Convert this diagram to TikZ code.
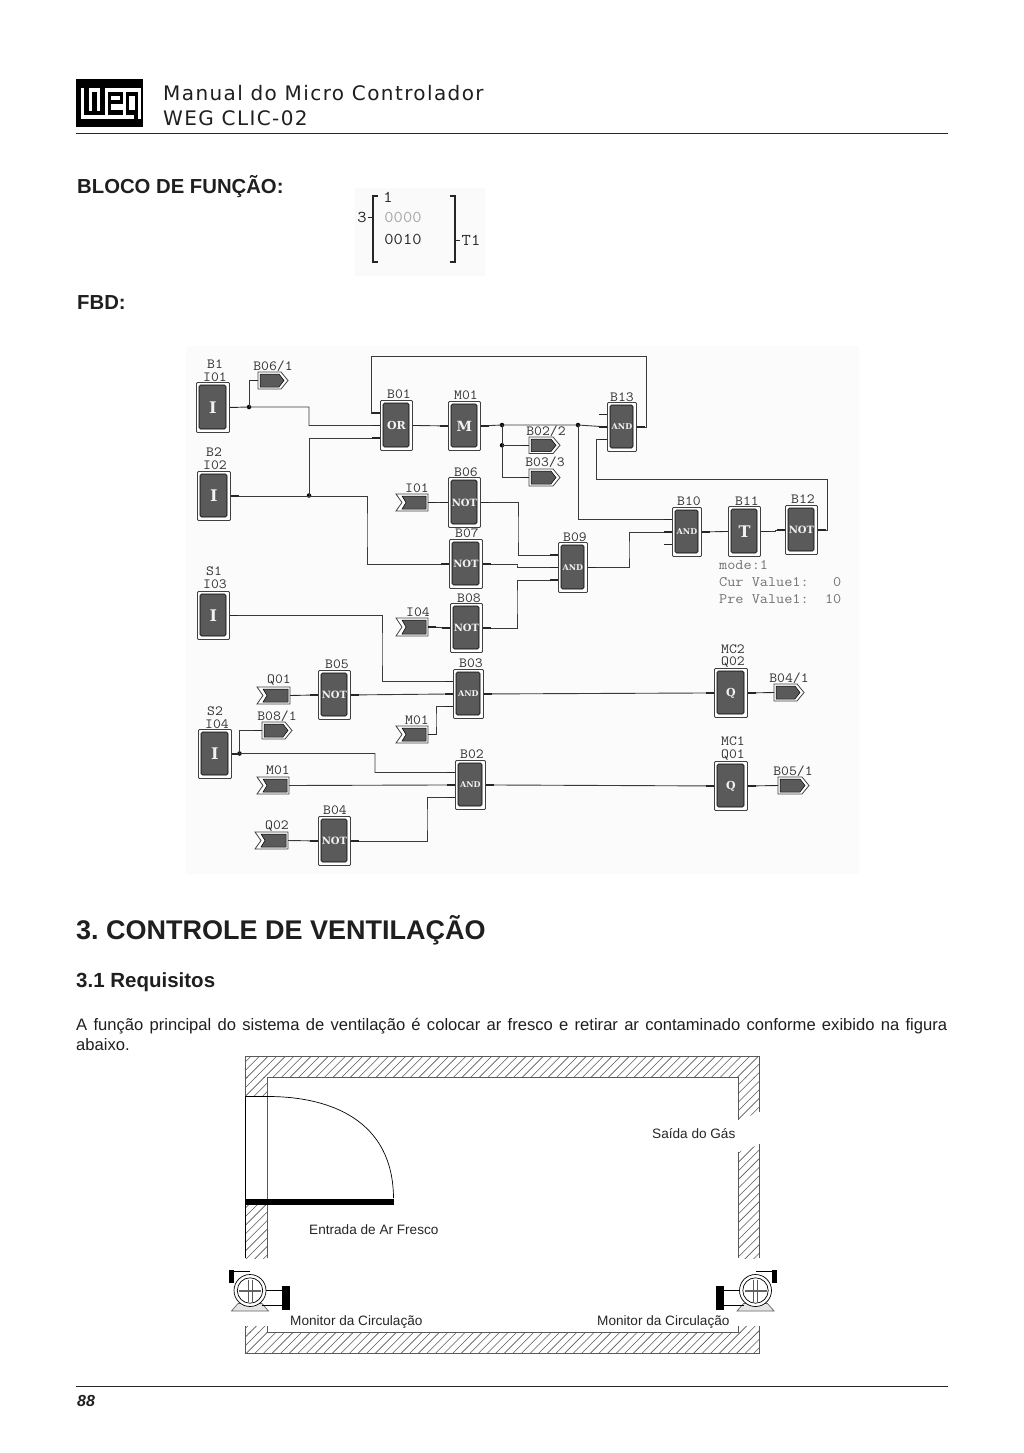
\documentclass[tikz,border=0pt]{standalone}
\usepackage{fontspec}
\usetikzlibrary{calc}
\setmainfont{Liberation Sans}
\newfontfamily\hdr{DejaVu Sans}[LetterSpace=7]
\newfontfamily\lcd{Latin Modern Mono}[FakeStretch=1.09]
\newfontfamily\lcdb{DejaVu Serif}
\AtBeginDocument{\frenchspacing}
\definecolor{blk}{HTML}{5A5A5A}
\definecolor{wire}{HTML}{3A3A3A}
\tikzset{
 x=1pt,y=-1pt,
 wirel/.style={draw=wire,line width=0.9pt},
 pinl/.style={draw=black!85,line width=1.5pt},
 dotj/.style={circle,fill=black,inner sep=0pt,minimum size=4.5pt},
 lab/.style={font=\lcd\fontsize{14}{14}\selectfont,text=black!80,inner sep=0pt},
 flab/.style={font=\lcd\fontsize{16.5}{16.5}\selectfont,text=black!85,inner sep=0pt},
 glab/.style={font=\lcd\fontsize{14.5}{14.5}\selectfont,text=black!55,inner sep=0pt,anchor=west},
 wallline/.style={draw=black!65,line width=0.9pt},
 hatchl/.style={draw=black!65,line width=0.6pt},
 txt/.style={inner sep=0pt,anchor=base west,text=black!88},
 small/.style={inner sep=0pt,anchor=base west,text=black!85,font=\fontsize{13.6}{13.6}\selectfont},
}
% \blockn{name}{x0}{y0}{x1}{y1}{text}{size}
\newcommand{\blockn}[7]{%
 \node[draw=black!75,fill=white,line width=0.9pt,rounded corners=1pt,minimum width=#4pt-#2pt,minimum height=#5pt-#3pt,inner sep=0pt,anchor=north west] (#1) at (#2,#3) {};
 \coordinate (#1a) at ($(#1.west)+(0,-12.5)$);
 \coordinate (#1c) at ($(#1.west)+(0,12.5)$);
 \fill[blk,draw=black,line width=0.6pt,rounded corners=1.5pt] (#2+3,#3+3) rectangle (#4-3,#5-3);
 \node[font=\lcdb\bfseries\fontsize{#7}{#7}\selectfont,text=white!95!black,inner sep=0pt] at (#1.center) {#6};
}
\newcommand{\outt}[5]{%
 \coordinate (#1) at (#2,#3+#5/2);
 \path[draw=black!75,fill=white,line width=0.8pt] (#2,#3) -- (#4-7,#3) -- (#4,#3+#5/2) -- (#4-7,#3+#5) -- (#2,#3+#5) -- cycle;
 \path[fill=blk,draw=black,line width=0.5pt] (#2+2,#3+2) -- (#4-9,#3+2) -- (#4-4,#3+#5/2) -- (#4-9,#3+#5-2) -- (#2+2,#3+#5-2) -- cycle;
}
\newcommand{\intt}[5]{%
 \coordinate (#1) at (#4,#3+#5/2);
 \path[draw=black!75,fill=white,line width=0.8pt] (#2,#3) -- (#4,#3) -- (#4,#3+#5) -- (#2,#3+#5) -- (#2+6,#3+#5/2) -- cycle;
 \path[fill=blk,draw=black,line width=0.5pt] (#2+6,#3+2) -- (#4-2,#3+2) -- (#4-2,#3+#5-2) -- (#2+6,#3+#5-2) -- (#2+10,#3+#5/2) -- cycle;
}
\newcommand{\stubl}[1]{\draw[pinl] (#1) -- ++(-8,0);}
\newcommand{\stubr}[1]{\draw[pinl] (#1) -- ++(8,0);}
\newcommand{\motor}[3]{%
 \begin{scope}[shift={(#1,#2)},xscale=#3]
  \draw[black!60,fill=black!10,line width=0.7pt] (-12,13) -- (-18.5,20.5) -- (18.5,20.5) -- (12,13) -- cycle;
  \draw[line width=0.7pt] (-16,-19.5) -- (0,-19.5);
  \draw[line width=0.7pt] (14,0) -- (32,0) (12,15) -- (32,15);
  \draw[fill=white,line width=0.7pt] (0,0) circle (16);
  \draw[line width=0.7pt] (0,0) circle (12.7);
  \fill[black!60] (-11,-1) rectangle (11,1);
  \draw[black!65,line width=0.7pt] (-2,-11) -- (-2,11) (2,-11) -- (2,11);
  \fill[black] (32,-4.5) rectangle (40,19.5);
  \fill[black] (-21,-20.5) rectangle (-16,-7.5);
 \end{scope}}
% lines x+y = const clipped to a rectangle
\newcommand{\hatchr}[4]{%
 \begin{scope}
  \clip (#1,#2) rectangle (#3,#4);
  \foreach \k in {150,...,246} {
   \pgfmathsetmacro{\cc}{\k*8.6}
   \draw[hatchl] (#1-2,\cc-#1+2) -- (#3+2,\cc-#3-2);
  }
 \end{scope}}
\begin{document}
\begin{tikzpicture}
\useasboundingbox (0,0) rectangle (1024,1453);
\fill[white] (0,0) rectangle (1024,1453);
% logo
\fill[black] (76,79) rectangle (143,127);
\fill[white] (81,88) rectangle (141,119);
\fill[black] (76,88) rectangle (81,127);
\fill[black] (84,88) rectangle (89,115);
\fill[black] (92,92) rectangle (97,115);
\fill[black] (100,88) rectangle (105,115);
\fill[black] (84,111) rectangle (105,115);
\fill[black] (108,92) rectangle (123,115);
\fill[white] (111,96) rectangle (120,100);
\fill[white] (111,104) rectangle (123,110);
\fill[black] (126,92) rectangle (138,115);
\fill[white] (129,96) rectangle (135,110);
\fill[black] (134,110) rectangle (138,122);
\fill[black] (76,119) rectangle (131,127);
\fill[black] (131,122) rectangle (143,127);
\fill[black] (141,88) rectangle (143,122);
% header
\node[txt,font=\hdr\fontsize{20}{20}\selectfont] (h1) at (163,100.5) {Manual do Micro Controlador};
\node[txt,font=\hdr\fontsize{20}{20}\selectfont] (h2) at (163,125.5) {WEG CLIC-02};
\draw[black!85,line width=1.7pt] (76,133.5) -- (948,133.5);
\node[txt,font=\bfseries\fontsize{20.3}{20.3}\selectfont] (t1) at (77,193) {BLOCO DE FUNÇÃO:};
\node[txt,font=\bfseries\fontsize{20.3}{20.3}\selectfont] (t2) at (77,309) {FBD:};
% function block
\fill[black!2] (355,188) rectangle (485,276);
\draw[black!85,line width=1.3pt] (378,196) -- (373,196) -- (373,262) -- (378,262);
\draw[black!85,line width=1.3pt] (450,196) -- (455,196) -- (455,262) -- (450,262);
\draw[black!85,line width=1pt] (368,217.5) -- (373,217.5) (455,240) -- (460,240);
\node[flab] (f1) at (388,197) {1};
\node[flab] (f3) at (362,217) {3};
\node[flab,text=black!35] (f0) at (403,217) {0000};
\node[flab] (f10) at (403,239) {0010};
\node[flab] (ft) at (471,240) {T1};
% FBD bg
\fill[black!1.5] (186,346) rectangle (859,874);
% blocks
\blockn{ba}{196}{382}{229}{432}{I}{16}
\blockn{bb}{197}{471}{230}{520}{I}{16}
\blockn{bc}{197}{591}{229}{639}{I}{16}
\blockn{bd}{198}{729}{231}{778}{I}{16}
\blockn{b01}{380}{400}{412}{450}{OR}{11}
\blockn{m01}{448}{401}{480}{450}{M}{14}
\blockn{b06}{448}{477}{480}{527}{NOT}{10}
\blockn{b07}{449}{539}{482}{588}{NOT}{10}
\blockn{b08}{450}{603}{482}{652}{NOT}{10}
\blockn{b03}{453}{669}{483}{718}{AND}{8}
\blockn{b05}{318}{670}{350}{719}{NOT}{10}
\blockn{b02}{455}{760}{485}{809}{AND}{8}
\blockn{b04}{318}{816}{350}{865}{NOT}{10}
\blockn{b13}{607}{402}{636}{451}{AND}{8}
\blockn{b10}{672}{507}{701}{556}{AND}{8}
\blockn{b11}{728}{506}{760}{556}{T}{16}
\blockn{b12}{785}{505}{817}{554}{NOT}{10}
\blockn{b09}{558}{542}{587}{592}{AND}{8}
\blockn{q2}{714}{668}{747}{717}{Q}{11}
\blockn{q1}{714}{761}{747}{810}{Q}{11}
% tags
\outt{t61}{258}{372}{288}{17}
\outt{t22}{529}{437}{560}{16.5}
\outt{t33}{529}{469}{560}{17}
\outt{t81}{262}{722}{292}{17}
\outt{t41}{774}{684}{804}{17}
\outt{t51}{778}{777}{809}{17}
\intt{i1}{396}{494}{428}{17}
\intt{i4}{396}{618}{428}{18}
\intt{iq1}{257}{687}{290}{17}
\intt{im1}{396}{726}{428}{17}
\intt{im2}{257}{777}{289}{17}
\intt{iq2}{255}{832}{288}{17}
% junctions
\node[dotj] (j1) at (249,407) {};
\node[dotj] (j2) at (309,495.5) {};
\node[dotj] (j3) at (502,425) {};
\node[dotj] (j4) at (502,445.25) {};
\node[dotj] (j5) at (578,425) {};
\node[dotj] (j6) at (239.5,753.5) {};
% wires
\draw[wirel] (ba.east) -- (j1.center) -| (309,416) |- (b01.west);
\draw[wirel] (j1.center) |- (t61);
\draw[wirel] (b01a) -| (371,356) -- (646,356) |- (b13.east);
\draw[wirel] (bb.east) -| (367,530) |- (b07.west);
\draw[wirel] (j2.center) |- (b01c);
\draw[wirel] (b01.east) -- (m01.west);
\draw[wirel] (m01.east) -- (j3.center) -- (j5.center) -- (b13.west);
\draw[wirel] (j3.center) |- (t33);
\draw[wirel] (j4.center) -- (t22);
\draw[wirel] (b13c) -| (596,479) -- (827,479) |- (b12.east);
\draw[wirel] (j5.center) |- (b10a);
\draw[wirel] (b09.east) -| (629,550) |- (b10.west);
\draw[wirel] (b10.east) -- (b11.west);
\draw[wirel] (b11.east) -| (775,530) |- (b12.west);
\draw[wirel] (b06.east) -| (518,530) |- (b09a);
\draw[wirel] (b07.east) -| (517,565) |- (b09.west);
\draw[wirel] (b08.east) -| (517,600) |- (b09c);
\draw[wirel] (i1) -- (b06.west);
\draw[wirel] (i4) -- (b08.west);
\draw[wirel] (bc.east) -| (382,650) |- (b03a);
\draw[wirel] (iq1) -- (b05.west);
\draw[wirel] (b05.east) -- (b03.west);
\draw[wirel] (im1) -| (436,720) |- (b03c);
\draw[wirel] (b03.east) -- (q2.west);
\draw[wirel] (q2.east) -- (t41);
\draw[wirel] (bd.east) -- (j6.center) -| (375,760) |- (b02a);
\draw[wirel] (j6.center) |- (t81);
\draw[wirel] (im2) -- (b02.west);
\draw[wirel] (iq2) -- (b04.west);
\draw[wirel] (b04.east) -| (427,820) |- (b02c);
\draw[wirel] (b02.east) -- (q1.west);
\draw[wirel] (q1.east) -- (t51);
% pin stubs
\stubr{ba.east}\stubr{bb.east}\stubr{bc.east}\stubr{bd.east}
\stubl{b01a}\stubl{b01.west}\stubl{b01c}\stubr{b01.east}
\stubl{m01.west}\stubr{m01.east}
\stubl{b06.west}\stubr{b06.east}\stubl{b07.west}\stubr{b07.east}\stubl{b08.west}\stubr{b08.east}
\stubl{b03a}\stubl{b03.west}\stubl{b03c}\stubr{b03.east}
\stubl{b05.west}\stubr{b05.east}
\stubl{b02a}\stubl{b02.west}\stubl{b02c}\stubr{b02.east}
\stubl{b04.west}\stubr{b04.east}
\stubl{b13a}\stubl{b13.west}\stubl{b13c}\stubr{b13.east}
\stubl{b10a}\stubl{b10.west}\stubl{b10c}\stubr{b10.east}
\stubl{b11.west}\stubr{b11.east}\stubl{b12.west}\stubr{b12.east}
\stubl{b09a}\stubl{b09.west}\stubl{b09c}\stubr{b09.east}
\stubl{q2.west}\stubr{q2.east}\stubl{q1.west}\stubr{q1.east}
\stubl{t22}\stubl{t33}\stubl{t61}\stubl{t81}\stubl{t41}\stubl{t51}
\stubr{i1}\stubr{i4}\stubr{iq1}\stubr{im1}
% labels
\node[lab] (l1) at (215,364) {B1};
\node[lab] (l2) at (215,377) {I01};
\node[lab] (l3) at (273,366) {B06/1};
\node[lab] (l4) at (399,394) {B01};
\node[lab] (l5) at (466,395) {M01};
\node[lab] (l6) at (214,452) {B2};
\node[lab] (l7) at (215,465) {I02};
\node[lab] (l8) at (466,472) {B06};
\node[lab] (l9) at (417,488) {I01};
\node[lab] (l10) at (467,533) {B07};
\node[lab] (l11) at (214,571) {S1};
\node[lab] (l12) at (215,584) {I03};
\node[lab] (l13) at (469,598) {B08};
\node[lab] (l14) at (418,612) {I04};
\node[lab] (l15) at (471,663) {B03};
\node[lab] (l16) at (337,664) {B05};
\node[lab] (l17) at (279,680) {Q01};
\node[lab] (l18) at (277,716) {B08/1};
\node[lab] (l19) at (215,711) {S2};
\node[lab] (l20) at (217,724) {I04};
\node[lab] (l21) at (417,720) {M01};
\node[lab] (l22) at (472,754) {B02};
\node[lab] (l23) at (278,770) {M01};
\node[lab] (l24) at (277,826) {Q02};
\node[lab] (l25) at (335,810) {B04};
\node[lab] (l26) at (622,397) {B13};
\node[lab] (l27) at (546,431) {B02/2};
\node[lab] (l28) at (545,462) {B03/3};
\node[lab] (l29) at (689,501) {B10};
\node[lab] (l30) at (747,501) {B11};
\node[lab] (l31) at (803,499) {B12};
\node[lab] (l32) at (575,537) {B09};
\node[lab] (l33) at (733,649) {MC2};
\node[lab] (l34) at (733,662) {Q02};
\node[lab] (l35) at (789,678) {B04/1};
\node[lab] (l36) at (733,741) {MC1};
\node[lab] (l37) at (733,755) {Q01};
\node[lab] (l38) at (793,771) {B05/1};
\node[glab] (g1) at (719,565) {mode:1};
\node[glab] (g2) at (719,582) {Cur Value1:\ \ \ 0};
\node[glab] (g3) at (719,599) {Pre Value1:\ \ 10};
% section
\node[txt,font=\bfseries\fontsize{27}{27}\selectfont] (s1) at (76,939) {3. CONTROLE DE VENTILAÇÃO};
\node[txt,font=\bfseries\fontsize{20.5}{20.5}\selectfont] (s2) at (76,987) {3.1 Requisitos};
\node[txt,font=\fontsize{16.6}{16.6}\selectfont] (p1) at (76,1030) {\makebox[871pt][s]{A função principal do sistema de ventilação é colocar ar fresco e retirar ar contaminado conforme exibido na figura}};
\node[txt,font=\fontsize{16.6}{16.6}\selectfont] (p2) at (76,1050) {abaixo.};
% plan: hatching
\hatchr{245.5}{1056}{759.5}{1077}
\hatchr{245.5}{1077}{267}{1096}
\hatchr{245.5}{1205}{267}{1258}
\hatchr{738.5}{1077}{759.5}{1258}
\fill[white] (738,1120) -- (738,1152) -- (761,1144) -- (761,1112) -- cycle;
\hatchr{245.5}{1332}{759.5}{1353}
\hatchr{245.5}{1326}{267}{1332}
\hatchr{738.5}{1326}{759.5}{1332}
% plan: walls
\draw[wallline] (245.5,1258) -- (245.5,1056) -- (759.5,1056) -- (759.5,1112);
\draw[wallline] (759.5,1144) -- (759.5,1258);
\draw[wallline] (267,1258) -- (267,1077) -- (738.5,1077) -- (738.5,1120);
\draw[wallline] (738.5,1152) -- (738.5,1258);
\draw[black,line width=0.8pt] (245.5,1258) -- (245.5,1096);
\draw[black,line width=0.7pt] (245.5,1096.5) -- (270,1096.5) .. controls (330,1097) and (393,1120) .. (393.5,1198);
\fill[black] (245.5,1198.5) rectangle (394,1204.5);
\draw[wallline] (245.5,1326) -- (245.5,1353) -- (759.5,1353) -- (759.5,1326);
\draw[wallline] (267,1326) -- (267,1332) -- (738.5,1332) -- (738.5,1326);
\motor{250}{1290.5}{1}
\motor{755.5}{1290.5}{-1}
\node[small] (n1) at (309,1234.5) {Entrada de Ar Fresco};
\node[small] (n2) at (652,1138) {Saída do Gás};
\node[small] (n3) at (290,1325) {Monitor da Circulação};
\node[small] (n4) at (597,1325) {Monitor da Circulação};
% footer
\draw[black!85,line width=1.7pt] (76,1386.5) -- (948,1386.5);
\node[txt,font=\bfseries\itshape\fontsize{16}{16}\selectfont] (pg) at (77,1406) {88};
\end{tikzpicture}
\end{document}
